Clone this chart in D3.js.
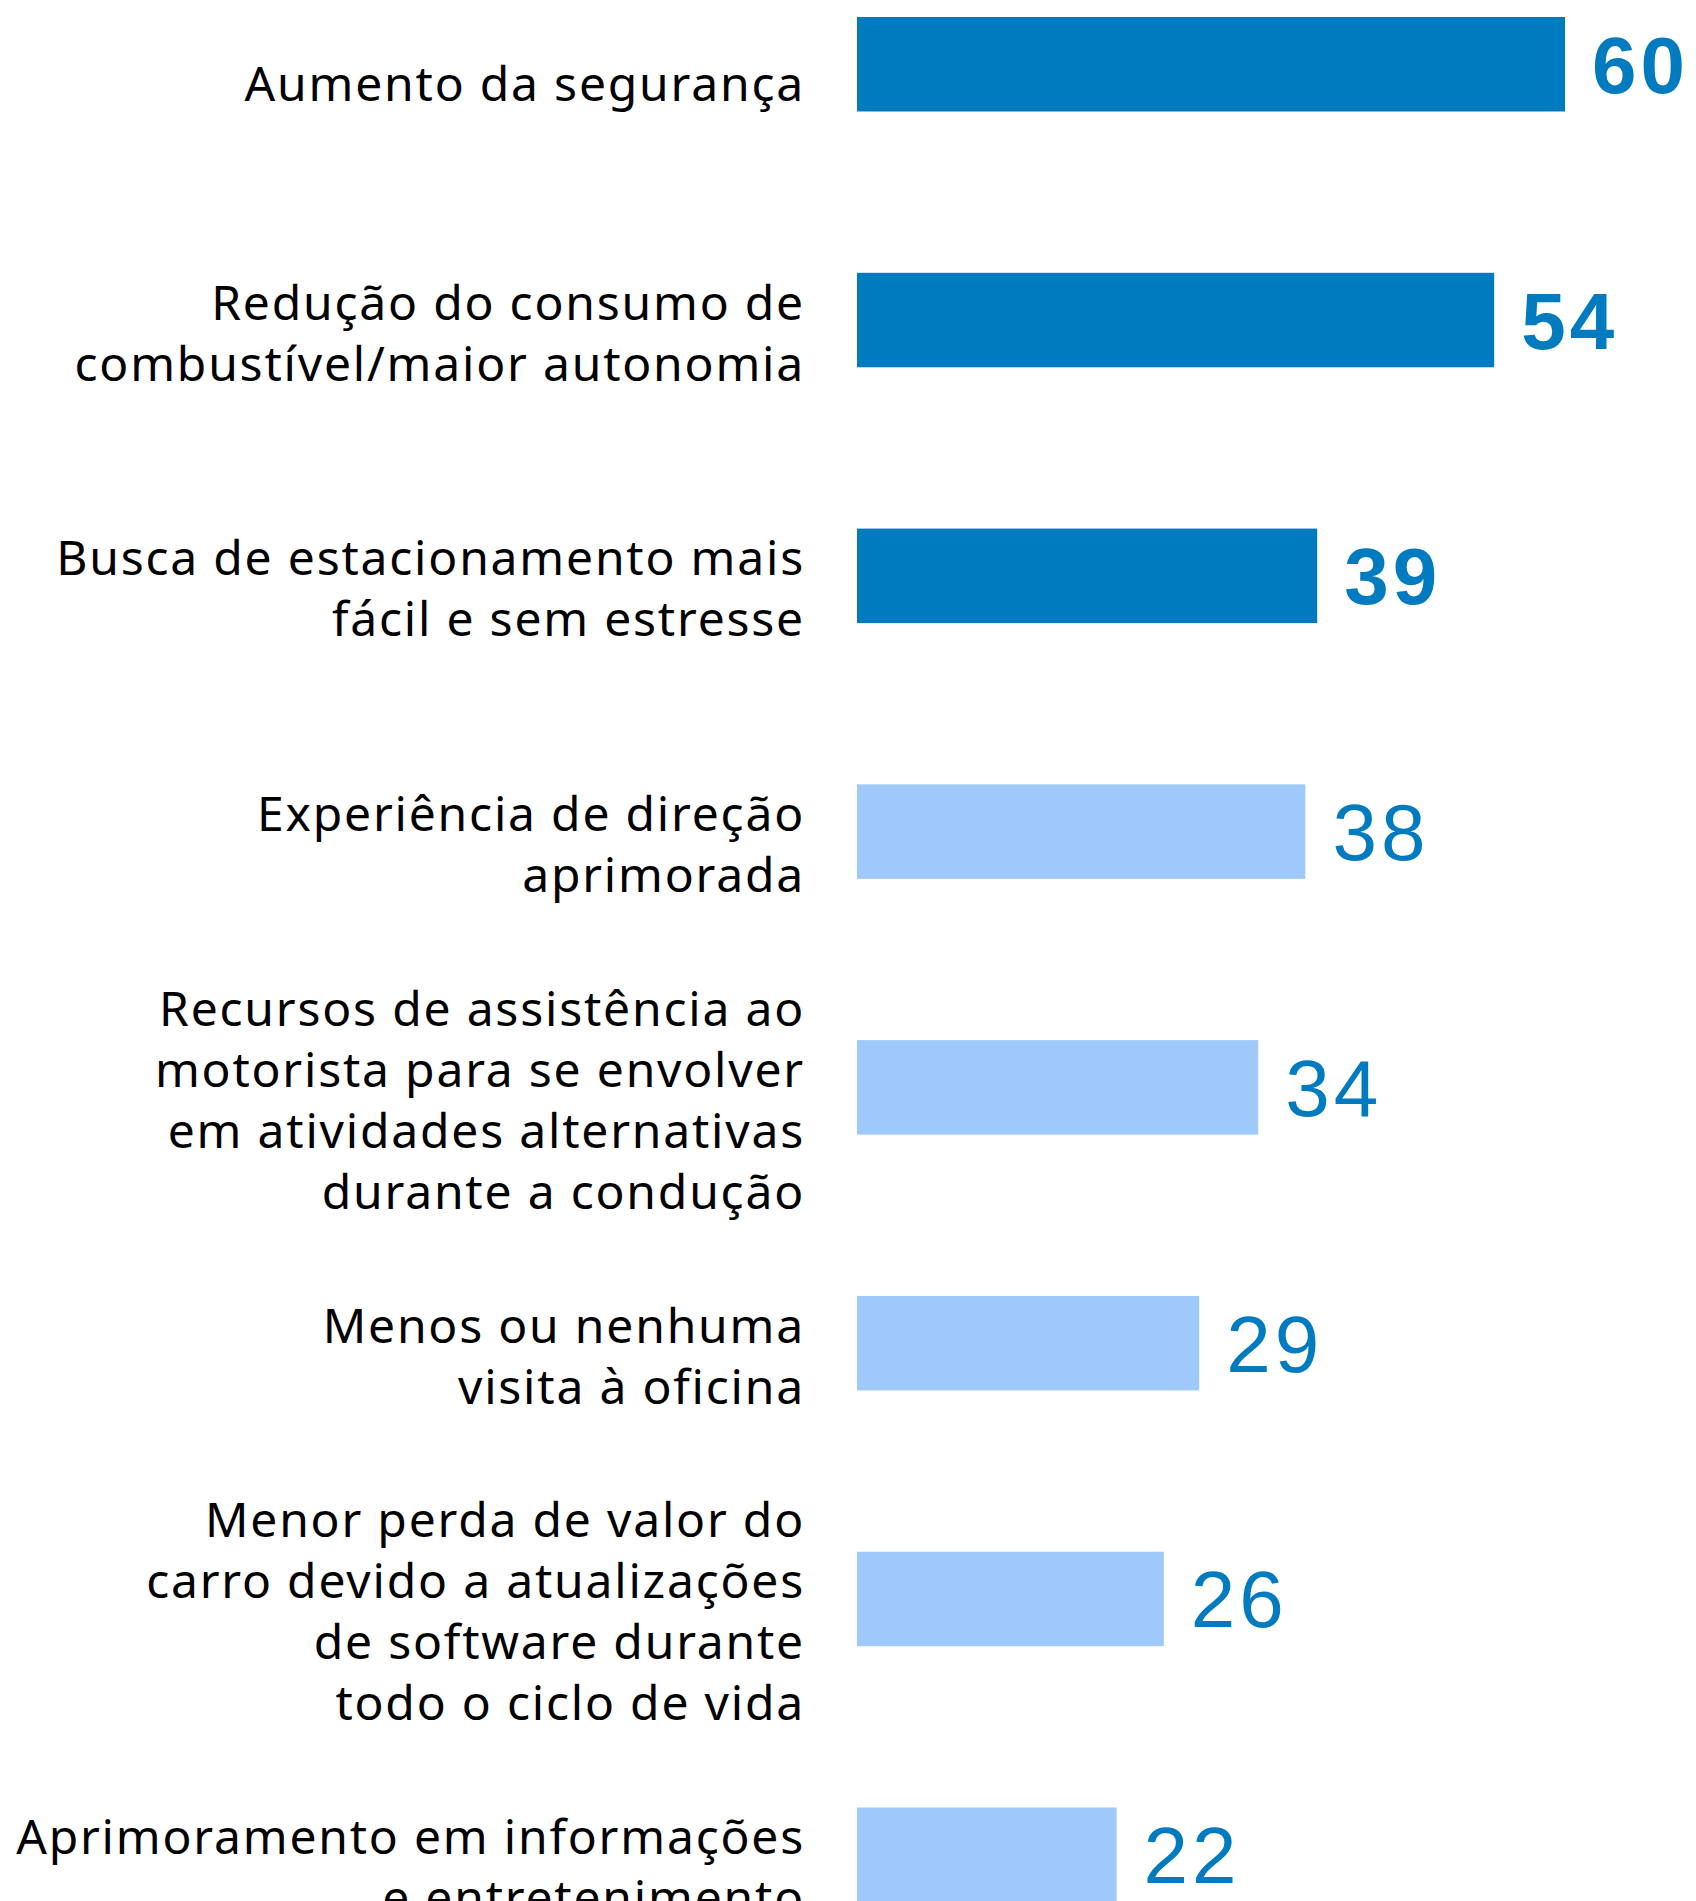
<!DOCTYPE html>
<html>
<head>
<meta charset="utf-8">
<script src="https://cdn.jsdelivr.net/npm/d3@7"></script>
<style>
  html, body { margin: 0; padding: 0; background: #ffffff; }
  svg { display: block; }
</style>
</head>
<body>
<script>
const categories = [
  ["Aumento da segurança"],
  ["Redução do consumo de", "combustível/maior autonomia"],
  ["Busca de estacionamento mais", "fácil e sem estresse"],
  ["Experiência de direção", "aprimorada"],
  ["Recursos de assistência ao", "motorista para se envolver", "em atividades alternativas", "durante a condução"],
  ["Menos ou nenhuma", "visita à oficina"],
  ["Menor perda de valor do", "carro devido a atualizações", "de software durante", "todo o ciclo de vida"],
  ["Aprimoramento em informações", "e entretenimento"]
];
const values = [60, 54, 39, 38, 34, 29, 26, 22];
const highlighted = [true, true, true, false, false, false, false, false];

const W = 1696, H = 1901;
const svg = d3.select("body").append("svg").attr("width", W).attr("height", H);

const keys = categories.map((c, i) => "c" + i);
const x = d3.scaleLinear().domain([0, 60]).range([857, 1565]);
const y = d3.scaleBand().domain(keys).range([17, 1902]).paddingInner(0.6306).paddingOuter(0);

const DARK = "#007BC0", LIGHT = "#A0C9FB";

const g = svg.append("g");
const rows = g.selectAll("g.row").data(values.map((v, i) => ({v, i, key: keys[i], lines: categories[i], hi: highlighted[i]})))
  .enter().append("g").attr("class", "row");

rows.append("rect")
  .attr("x", x(0))
  .attr("y", d => y(d.key))
  .attr("width", d => x(d.v) - x(0))
  .attr("height", y.bandwidth())
  .attr("fill", d => d.hi ? DARK : LIGHT);

rows.append("text")
  .attr("x", d => x(d.v) + 27)
  .attr("y", d => y(d.key) + y.bandwidth() / 2 + 28.5)
  .attr("fill", DARK)
  .attr("font-family", "'Liberation Sans', Arial, sans-serif")
  .attr("font-size", 80)
  .attr("letter-spacing", 4)
  .attr("font-weight", d => d.hi ? "bold" : "normal")
  .text(d => d.v);

const LH = 61;
rows.each(function(d) {
  const c = y(d.key) + y.bandwidth() / 2;
  const n = d.lines.length;
  const mean = c + (n === 1 ? 37 : 30);
  const t = d3.select(this).append("text")
    .attr("text-anchor", "end")
    .attr("font-family", "'Noto Sans', sans-serif")
    .attr("font-size", 48)
    .attr("letter-spacing", 1.8)
    .attr("fill", "#000");
  d.lines.forEach((line, k) => {
    t.append("tspan")
      .attr("x", 805)
      .attr("y", mean + (k - (n - 1) / 2) * LH)
      .text(line);
  });
});
</script>
</body>
</html>
